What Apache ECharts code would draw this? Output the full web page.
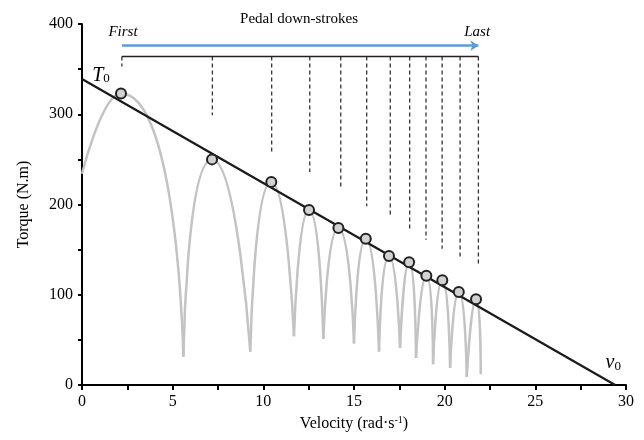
<!DOCTYPE html>
<html>
<head>
<meta charset="utf-8">
<script src="https://cdn.jsdelivr.net/npm/echarts@6/dist/echarts.min.js"></script>
<style>
  html, body { margin: 0; padding: 0; background: #fff; }
  #chart { width: 644px; height: 440px; }
</style>
</head>
<body>
<div id="chart"></div>
<script>
// peaks of each pedal down-stroke (circles)
var peakV = [2.15, 7.17, 10.44, 12.52, 14.14, 15.65, 16.93, 18.04, 18.99, 19.87, 20.78, 21.73];
var peakT = [323, 250, 225, 194, 174, 162, 143, 136, 121, 116, 103, 95];
// minima between strokes
var troughV = [5.59, 9.28, 11.69, 13.31, 15.0, 16.38, 17.54, 18.42, 19.36, 20.30, 21.22];
var troughT = [31, 37, 54, 51, 46, 37, 41, 30, 23, 19, 9];
var curveStart = [0, 234];
var curveEnd = [21.99, 12];
// dashed markers above strokes
var dashV = [2.2, 7.19, 10.46, 12.56, 14.27, 15.70, 17.0, 18.07, 18.97, 19.86, 20.85, 21.86];
var dashLowT = [353, 299, 258, 236, 218, 198, 186, 170, 161, 151, 140, 132];
var bracketT = 364;
var arrowT = 376;
// torque-velocity regression
var T0 = 339;
var v0 = 29.4;

var xTicks = [0, 5, 10, 15, 20, 25, 30];
var yTicks = [0, 100, 200, 300, 400];

var FONT = "'Liberation Serif', 'Times New Roman', serif";

var chart = echarts.init(document.getElementById('chart'));

// gray torque curve, one arc per stroke
var arcSeries = peakV.map(function (v, i) {
    var left = i === 0 ? curveStart : [troughV[i - 1], troughT[i - 1]];
    var right = i === peakV.length - 1 ? curveEnd : [troughV[i], troughT[i]];
    return {
        type: 'line',
        data: [left, [v, peakT[i]], right],
        smooth: 0.75,
        symbol: 'none',
        silent: true,
        lineStyle: { color: '#c3c3c3', width: 2.5 },
        z: 2
    };
});

var dashData = dashV.map(function (v, i) { return [v, bracketT, dashLowT[i]]; });

var annoLabels = [
    { value: [11.97, 405.5], text: 'Pedal down-strokes', italic: false },
    { value: [2.26, 391], text: 'First', italic: true },
    { value: [21.79, 391], text: 'Last', italic: true },
    { value: [1.05, 344], text: '{big|T}{sub|0}', italic: false },
    { value: [29.3, 25.5], text: '{big|v}{sub|0}', italic: false }
];

var option = {
    backgroundColor: '#fff',
    animation: false,
    grid: { left: 82, right: 18, top: 24, bottom: 55 },
    xAxis: {
        type: 'value',
        min: 0,
        max: 30,
        interval: 2.5,
        name: 'Velocity (rad·s{sup|-1})',
        nameLocation: 'middle',
        nameGap: 30,
        nameTextStyle: {
            color: '#000', fontFamily: FONT, fontSize: 16,
            rich: { sup: { fontFamily: FONT, fontSize: 10, color: '#000', verticalAlign: 'top', padding: [0, 0, 8, 0] } }
        },
        axisLine: { lineStyle: { color: '#000', width: 2 } },
        axisTick: { show: true, length: 5, lineStyle: { color: '#000', width: 2 } },
        axisLabel: {
            color: '#000', fontFamily: FONT, fontSize: 16, margin: 9,
            formatter: function (val) { return xTicks.indexOf(val) >= 0 ? String(val) : ''; }
        },
        splitLine: { show: false }
    },
    yAxis: {
        type: 'value',
        min: 0,
        max: 400,
        interval: 50,
        name: 'Torque (N.m)',
        nameLocation: 'middle',
        nameGap: 50,
        nameTextStyle: { color: '#000', fontFamily: FONT, fontSize: 16 },
        axisLine: { show: true, lineStyle: { color: '#000', width: 2 } },
        axisTick: { show: true, length: 4, lineStyle: { color: '#000', width: 2 } },
        axisLabel: {
            color: '#000', fontFamily: FONT, fontSize: 16, margin: 9,
            formatter: function (val) { return yTicks.indexOf(val) >= 0 ? String(val) : ''; }
        },
        splitLine: { show: false }
    },
    series: arcSeries.concat([
        {
            // regression line
            type: 'line',
            data: [[0, T0], [v0, 0]],
            symbol: 'none',
            lineStyle: { color: '#1a1a1a', width: 2.2 },
            z: 3
        },
        {
            type: 'scatter',
            data: peakV.map(function (v, i) { return [v, peakT[i]]; }),
            symbol: 'circle',
            symbolSize: 10,
            itemStyle: { color: '#d2d2d2', borderColor: '#222', borderWidth: 2, opacity: 1 },
            z: 4
        },
        {
            // bracket
            type: 'line',
            data: [[dashV[0], bracketT], [dashV[dashV.length - 1], bracketT]],
            symbol: 'none',
            clip: false,
            lineStyle: { color: '#222', width: 1.4 },
            z: 3
        },
        {
            type: 'custom',
            clip: false,
            data: dashData,
            renderItem: function (params, api) {
                var a = api.coord([api.value(0), api.value(1)]);
                var b = api.coord([api.value(0), api.value(2)]);
                return {
                    type: 'line',
                    shape: { x1: a[0], y1: a[1], x2: b[0], y2: b[1] },
                    style: { stroke: '#333', lineWidth: 1.3, lineDash: [4, 3] }
                };
            },
            z: 3
        },
        {
            type: 'lines',
            coordinateSystem: 'cartesian2d',
            data: [{ coords: [[dashV[0], arrowT], [dashV[dashV.length - 1], arrowT]] }],
            symbol: ['none', 'arrow'],
            symbolSize: 8,
            lineStyle: { color: '#5a9bd8', width: 2.5, opacity: 1 },
            z: 3
        },
        {
            type: 'scatter',
            clip: false,
            silent: true,
            symbolSize: 0,
            itemStyle: { opacity: 1 },
            data: annoLabels.map(function (a) {
                var d = { value: a.value };
                if (a.italic) d.label = { fontStyle: 'italic' };
                return d;
            }),
            label: {
                show: true,
                position: 'inside',
                color: '#000',
                opacity: 1,
                fontFamily: FONT,
                fontSize: 15,
                formatter: function (p) { return annoLabels[p.dataIndex].text; },
                rich: {
                    big: { fontFamily: FONT, fontSize: 20, fontStyle: 'italic', color: '#000', verticalAlign: 'bottom', lineHeight: 22 },
                    sub: { fontFamily: FONT, fontSize: 13, color: '#000', verticalAlign: 'bottom', lineHeight: 16 }
                }
            },
            z: 5
        }
    ])
};

chart.setOption(option);
</script>
</body>
</html>
